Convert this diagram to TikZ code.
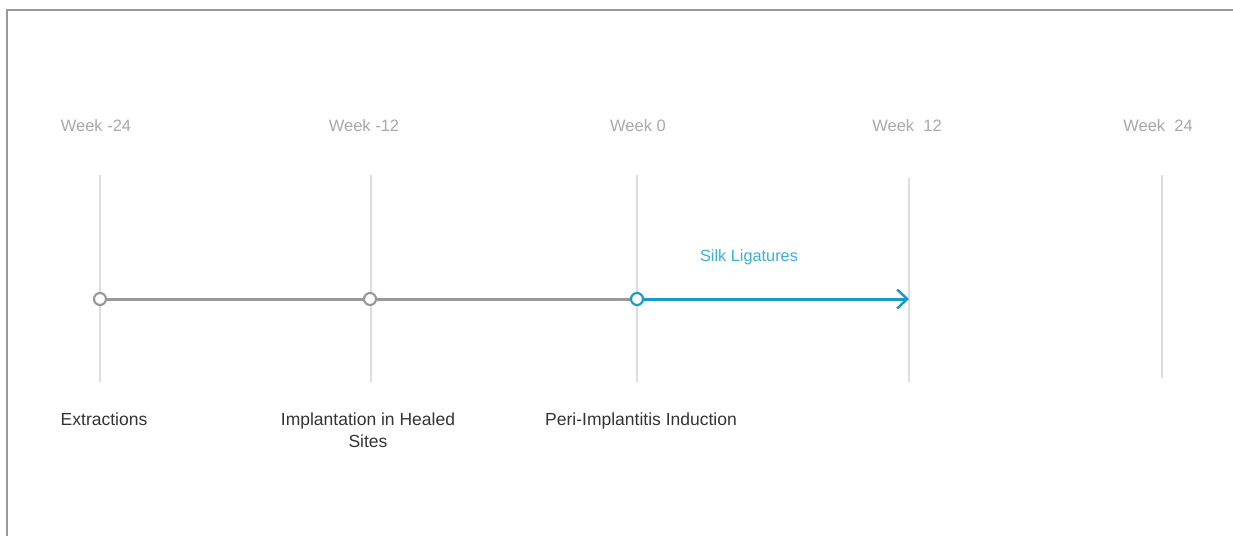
\documentclass[tikz,border=0pt]{standalone}
\usepackage{fontspec}
\setmainfont{Liberation Sans}
\usetikzlibrary{arrows.meta}
\definecolor{frame}{HTML}{999999}
\definecolor{tick}{HTML}{DDDDDD}
\definecolor{weekc}{HTML}{A8A8A8}
\definecolor{linec}{HTML}{999999}
\definecolor{bluec}{HTML}{1A9BC6}
\definecolor{bluet}{HTML}{3AAFD8}
\definecolor{labc}{HTML}{333333}
\begin{document}
\begin{tikzpicture}[x=1pt,y=-1pt,
  weeklab/.style={font=\fontsize{16.5}{20}\selectfont, text=weekc, inner sep=0pt},
  evlab/.style={font=\fontsize{17.5}{22}\selectfont, text=labc, inner sep=0pt, align=center, anchor=north},
  tickline/.style={draw=tick, line width=1.5pt},
  dotc/.style={circle, draw=#1, fill=white, line width=2.2pt, minimum size=12pt, inner sep=0pt}]
\useasboundingbox (0,0) rectangle (1233,536);
\draw[frame, line width=2pt] (7,536) -- (7,9.5) -- (1233,9.5);
% week labels
\node[weeklab] (w1) at (96,125.5) {Week -24};
\node[weeklab] (w2) at (364,125.5) {Week -12};
\node[weeklab] (w3) at (638,125.5) {Week 0};
\node[weeklab] (w4) at (907,125.5) {Week\ \ 12};
\node[weeklab] (w5) at (1158,125.5) {Week\ \ 24};
% tick lines
\coordinate (t1a) at (100,175); \coordinate (t1b) at (100,382);
\coordinate (t2a) at (371,175); \coordinate (t2b) at (371,382);
\coordinate (t3a) at (637,175); \coordinate (t3b) at (637,382);
\coordinate (t4a) at (909,178); \coordinate (t4b) at (909,382);
\coordinate (t5a) at (1162,175); \coordinate (t5b) at (1162,378);
\foreach \i in {1,...,5} { \draw[tickline] (t\i a) -- (t\i b); }
% timeline
\coordinate (e) at (909,299);
\node[dotc=linec] (d1) at (100,299) {};
\node[dotc=linec] (d2) at (370,299) {};
\node[dotc=bluec] (d3) at (637,299) {};
\draw[linec, line width=3pt] (d1) -- (d2);
\draw[linec, line width=3pt] (d2) -- (d3);
\draw[bluec, line width=3pt, -{Straight Barb[length=10pt,width=19pt,line width=2.5pt]}] (d3) -- (e);
\node[font=\fontsize{16.3}{20}\selectfont, text=bluet, inner sep=0pt] (silk) at (749,257) {Silk Ligatures};
% event labels
\node[evlab] (x1) at (104,413) {Extractions};
\node[evlab] (x2) at (368,413) {Implantation in Healed\\Sites};
\node[evlab] (x3) at (641,413) {Peri-Implantitis Induction};
\end{tikzpicture}
\end{document}
